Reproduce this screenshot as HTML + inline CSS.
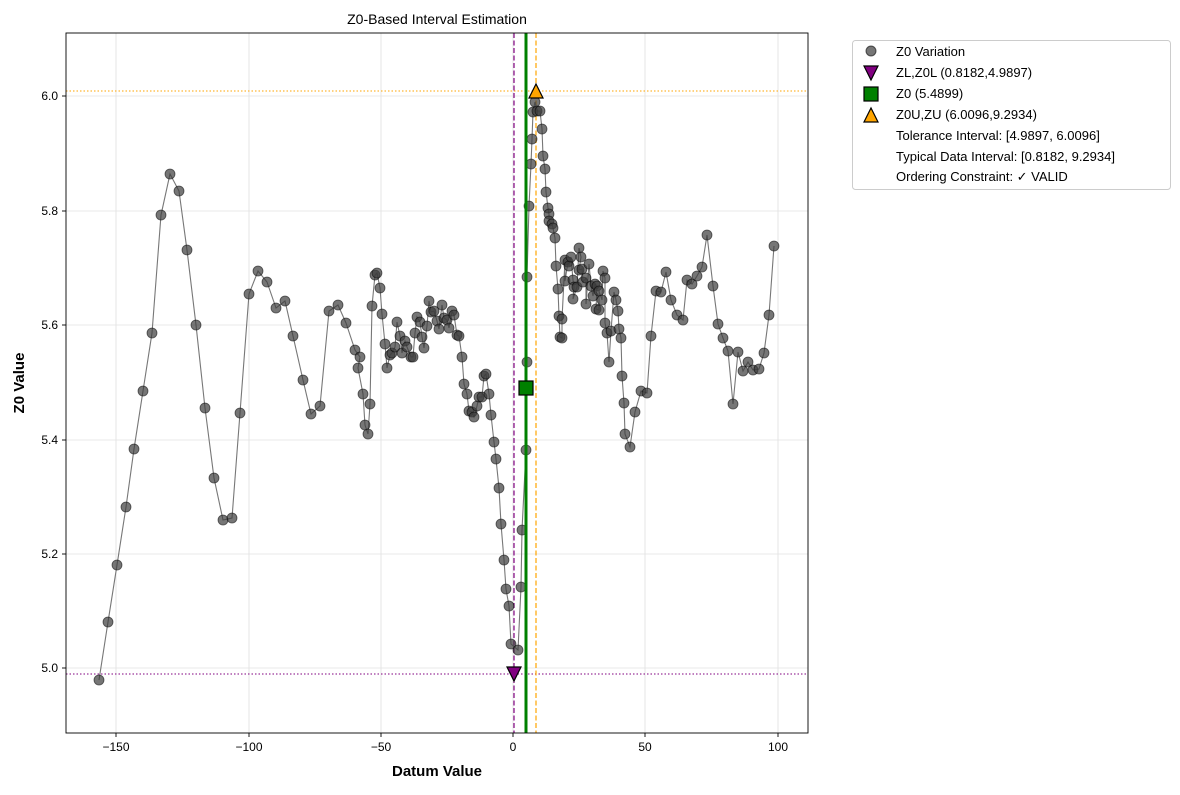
<!DOCTYPE html>
<html><head><meta charset="utf-8"><style>
body{margin:0;background:#fff;}
text{font-family:"Liberation Sans","DejaVu Sans",sans-serif;}
</style></head><body>
<svg width="1180" height="790" viewBox="0 0 1180 790" xmlns="http://www.w3.org/2000/svg">
<rect width="1180" height="790" fill="#fff"/>
<defs>
<clipPath id="c"><rect x="66" y="33" width="742" height="700"/></clipPath>
<marker id="m" markerUnits="userSpaceOnUse" markerWidth="12" markerHeight="12" refX="6" refY="6" viewBox="0 0 12 12" overflow="visible">
<circle cx="6" cy="6" r="5" fill="rgba(60,60,60,0.7)" stroke="rgba(0,0,0,0.6)" stroke-width="0.8"/>
</marker>
</defs>
<!-- grid -->
<g stroke="#e0e0e0" stroke-width="0.8">
<line x1="116" y1="33" x2="116" y2="733"/><line x1="249" y1="33" x2="249" y2="733"/><line x1="381" y1="33" x2="381" y2="733"/><line x1="513" y1="33" x2="513" y2="733"/><line x1="645" y1="33" x2="645" y2="733"/><line x1="778" y1="33" x2="778" y2="733"/>
<line x1="66" y1="96" x2="808" y2="96"/><line x1="66" y1="211" x2="808" y2="211"/><line x1="66" y1="325" x2="808" y2="325"/><line x1="66" y1="440" x2="808" y2="440"/><line x1="66" y1="554" x2="808" y2="554"/><line x1="66" y1="668" x2="808" y2="668"/>
</g>
<g clip-path="url(#c)">
<line x1="66" y1="91" x2="808" y2="91" stroke="orange" stroke-width="1" stroke-dasharray="1.5,2"/>
<line x1="66" y1="674" x2="808" y2="674" stroke="#800080" stroke-width="1" stroke-dasharray="1.5,2"/>
<line x1="514" y1="33" x2="514" y2="733" stroke="#800080" stroke-width="1.2" stroke-dasharray="5,2.5"/>
<line x1="536" y1="33" x2="536" y2="733" stroke="orange" stroke-width="1.2" stroke-dasharray="5,2.5"/>
<polyline fill="none" stroke="#777" stroke-width="1.1" marker-start="url(#m)" marker-mid="url(#m)" marker-end="url(#m)" points="99,680 108,622 117,565 126,507 134,449 143,391 152,333 161,215 170,174 179,191 187,250 196,325 205,408 214,478 223,520 232,518 240,413 249,294 258,271 267,282 276,308 285,301 293,336 303,380 311,414 320,406 329,311 338,305 346,323 355,350 360,357 358,368 363,394 365,425 368,434 370,404 372,306 375,275 377,273 380,288 382,314 385,344 387,368 390,355 392,353 395,347 397,322 400,336 402,353 405,341 407,347 411,357 413,357 415,333 417,317 420,322 422,337 424,348 427,326 429,301 431,312 434,311 437,321 439,329 442,305 444,318 447,320 449,328 452,311 454,315 457,335 459,336 462,357 464,384 467,394 469,411 472,412 474,417 477,406 479,397 482,397 484,376 486,374 489,394 491,415 494,442 496,459 499,488 501,524 504,560 506,589 509,606 511,644 518,650 521,587 522,530 526,450 527,362 527,277 529,206 531,164 532,139 533,112 535,102 537,111 540,111 542,129 543,156 545,169 546,192 548,208 549,214 549,221 552,224 553,228 555,238 556,266 558,289 559,316 560,337 562,338 562,319 565,260 565,281 568,262 569,266 571,257 573,280 574,287 573,299 577,287 579,248 581,257 579,270 582,269 583,282 586,278 586,304 589,264 591,286 593,296 595,284 597,286 596,309 599,310 599,291 602,300 603,271 605,278 605,323 607,333 609,362 611,331 614,292 616,300 618,311 619,329 621,338 622,376 624,403 625,434 630,447 635,412 641,391 647,393 651,336 656,291 661,292 666,272 671,300 677,315 683,320 687,280 692,284 697,276 702,267 707,235 713,286 718,324 723,338 728,351 733,404 738,352 743,371 748,362 753,370 759,369 764,353 769,315 774,246"/>
<line x1="526" y1="33" x2="526" y2="733" stroke="green" stroke-width="3"/>
</g>
<!-- markers -->
<polygon points="507,667 521,667 514,681" fill="#800080" stroke="#000" stroke-width="1.2"/>
<rect x="519" y="381" width="14" height="14" fill="green" stroke="#000" stroke-width="1.2"/>
<polygon points="529,98 543,98 536,84" fill="orange" stroke="#000" stroke-width="1.2"/>
<!-- axes -->
<rect x="66" y="33" width="742" height="700" fill="none" stroke="#000" stroke-width="0.9"/>
<g stroke="#000" stroke-width="0.9">
<line x1="116" y1="733" x2="116" y2="737"/><line x1="249" y1="733" x2="249" y2="737"/><line x1="381" y1="733" x2="381" y2="737"/><line x1="513" y1="733" x2="513" y2="737"/><line x1="645" y1="733" x2="645" y2="737"/><line x1="778" y1="733" x2="778" y2="737"/>
<line x1="62" y1="96" x2="66" y2="96"/><line x1="62" y1="211" x2="66" y2="211"/><line x1="62" y1="325" x2="66" y2="325"/><line x1="62" y1="440" x2="66" y2="440"/><line x1="62" y1="554" x2="66" y2="554"/><line x1="62" y1="668" x2="66" y2="668"/>
</g>
<g font-size="12" fill="#000" text-anchor="middle">
<text x="116" y="751">−150</text><text x="249" y="751">−100</text><text x="381" y="751">−50</text><text x="513" y="751">0</text><text x="645" y="751">50</text><text x="778" y="751">100</text>
</g>
<g font-size="12" fill="#000" text-anchor="end">
<text x="58" y="100">6.0</text><text x="58" y="215">5.8</text><text x="58" y="329">5.6</text><text x="58" y="444">5.4</text><text x="58" y="558">5.2</text><text x="58" y="672">5.0</text>
</g>
<text x="437" y="24" font-size="14" text-anchor="middle">Z0-Based Interval Estimation</text>
<text x="437" y="776" font-size="15" font-weight="bold" text-anchor="middle">Datum Value</text>
<text transform="translate(24,383) rotate(-90)" font-size="15" font-weight="bold" text-anchor="middle">Z0 Value</text>
<!-- legend -->
<rect x="852.5" y="40.5" width="318" height="149" rx="3" fill="#fff" stroke="#ccc"/>
<circle cx="871" cy="51" r="5" fill="rgba(60,60,60,0.7)" stroke="rgba(0,0,0,0.6)"/>
<polygon points="864,66 878,66 871,80" fill="#800080" stroke="#000" stroke-width="1.2"/>
<rect x="864" y="87" width="14" height="14" fill="green" stroke="#000" stroke-width="1.2"/>
<polygon points="864,122 878,122 871,108" fill="orange" stroke="#000" stroke-width="1.2"/>
<g font-size="13" fill="#000">
<text x="896" y="56">Z0 Variation</text>
<text x="896" y="77">ZL,Z0L (0.8182,4.9897)</text>
<text x="896" y="98">Z0 (5.4899)</text>
<text x="896" y="119">Z0U,ZU (6.0096,9.2934)</text>
<text x="896" y="140">Tolerance Interval: [4.9897, 6.0096]</text>
<text x="896" y="161">Typical Data Interval: [0.8182, 9.2934]</text>
<text x="896" y="181">Ordering Constraint: ✓ VALID</text>
</g>
</svg>
</body></html>
